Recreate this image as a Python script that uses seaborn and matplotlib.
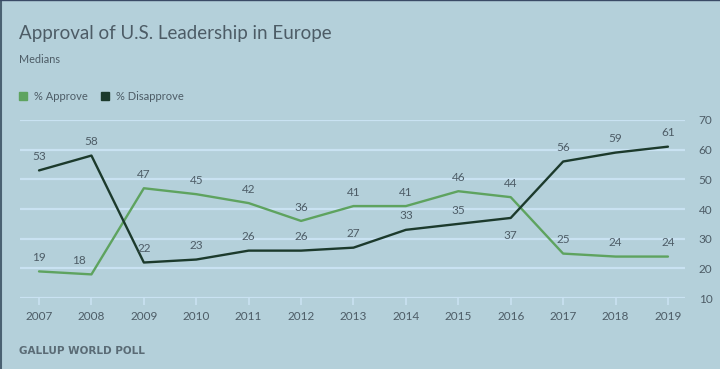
import matplotlib
matplotlib.use("Agg")
import matplotlib.pyplot as plt
import seaborn as sns
import pandas as pd
from matplotlib.patches import Rectangle
from matplotlib.lines import Line2D

years = [2007, 2008, 2009, 2010, 2011, 2012, 2013, 2014, 2015, 2016, 2017, 2018, 2019]
approve = [19, 18, 47, 45, 42, 36, 41, 41, 46, 44, 25, 24, 24]
disapprove = [53, 58, 22, 23, 26, 26, 27, 33, 35, 37, 56, 59, 61]
series_names = ["% Approve", "% Disapprove"]
y_ticks = [10, 20, 30, 40, 50, 60, 70]
# label placement: +1 above, -1 below
approve_pos = [1] * 13
disapprove_pos = [1, 1, 1, 1, 1, 1, 1, 1, 1, -1, 1, 1, 1]
# horizontal nudges for labels (points)
approve_dx = [0, -9, 0, 0, 0, 0, 0, 0, 0, 0, 0, 0, 0]
disapprove_dx = [0] * 13

BG = "#b4d0da"
GRID = "#c9e2f2"
TEXT = "#4d5c66"
GREEN = "#5ea35f"
DARK = "#1c3a2c"

sns.set_theme(style="white")
plt.rcParams["font.family"] = ["Lato", "DejaVu Sans"]

df = pd.DataFrame({
    "year": years * 2,
    "value": approve + disapprove,
    "series": [series_names[0]] * len(years) + [series_names[1]] * len(years),
})

fig = plt.figure(figsize=(7.2, 3.69), dpi=100, facecolor=BG)
ax = fig.add_axes([0.028, 0.192, 0.923, 0.483])
ax.set_facecolor(BG)

sns.lineplot(data=df, x="year", y="value", hue="series",
             palette=[GREEN, DARK], linewidth=1.7, ax=ax, legend=False)

ax.set_xlim(2006.64, 2019.32)
ax.set_ylim(10, 70)
ax.set_yticks(y_ticks)
ax.set_xticks(years)
ax.yaxis.tick_right()
for sp in ax.spines.values():
    sp.set_visible(False)
ax.grid(axis="y", color=GRID, linewidth=1.6)
ax.grid(axis="x", visible=False)
ax.tick_params(axis="y", length=0, pad=10, labelsize=8.5, labelcolor=TEXT)
ax.tick_params(axis="x", bottom=True, length=5, width=1.2, color=GRID,
               pad=4, labelsize=8.5, labelcolor=TEXT)
ax.set_xlabel("")
ax.set_ylabel("")

for vals, pos, dxs in ((approve, approve_pos, approve_dx),
                       (disapprove, disapprove_pos, disapprove_dx)):
    for x, v, p, dx in zip(years, vals, pos, dxs):
        ax.annotate(str(v), (x, v), xytext=(dx, 6 if p > 0 else -9),
                    textcoords="offset points",
                    ha="center", va="bottom" if p > 0 else "top",
                    fontsize=8.5, color=TEXT)

fig.text(0.026, 0.895, "Approval of U.S. Leadership in Europe",
         fontsize=13.5, color=TEXT, va="baseline")
fig.text(0.026, 0.84, "Medians", fontsize=7.8, color=TEXT, va="center")

# legend
fig.patches.append(Rectangle((19 / 720, 1 - 100 / 369), 8 / 720, 8 / 369,
                             transform=fig.transFigure, color=GREEN))
fig.text(34 / 720, 1 - 96 / 369, series_names[0], fontsize=8, color=TEXT, va="center")
fig.patches.append(Rectangle((101 / 720, 1 - 100 / 369), 8 / 720, 8 / 369,
                             transform=fig.transFigure, color=DARK))
fig.text(116 / 720, 1 - 96 / 369, series_names[1], fontsize=8, color=TEXT, va="center")

fig.text(19 / 720, 1 - 351 / 369, "GALLUP WORLD POLL", fontsize=7.5,
         color="#5a6b75", fontweight="bold", va="center", family="DejaVu Sans")

# border on top and left
fig.lines.append(Line2D([0.0015, 0.0015], [0, 1], transform=fig.transFigure,
                        color="#4a6172", linewidth=1.5))
fig.lines.append(Line2D([0, 1], [0.999, 0.999], transform=fig.transFigure,
                        color="#3a4a66", linewidth=1.0))

fig.savefig("out.png", dpi=100, facecolor=BG)
